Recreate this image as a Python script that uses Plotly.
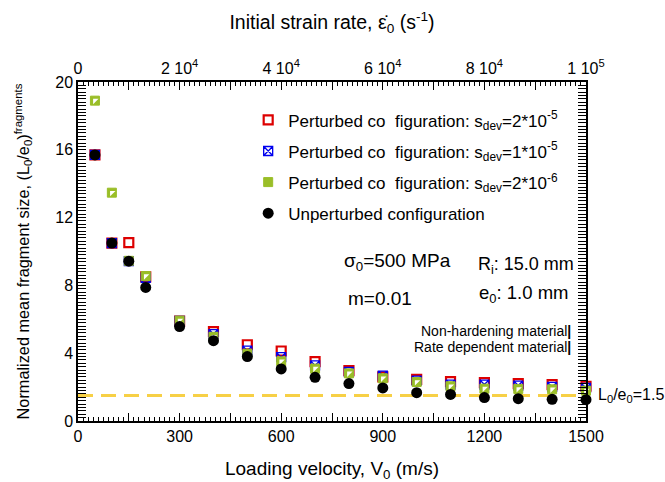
import plotly.graph_objects as go

# ---------------- data ----------------
velocity = [50, 100, 150, 200, 300, 400, 500, 600, 700, 800, 900, 1000, 1100, 1200, 1300, 1400, 1500]
pert_2e5 = [15.7, 10.5, 10.52, 8.5, 5.9, 5.27, 4.50, 4.13, 3.50, 2.97, 2.60, 2.46, 2.32, 2.26, 2.20, 2.15, 2.05]
pert_1e5 = [15.7, 10.5, 9.43, 8.45, 5.9, 5.13, 4.15, 3.77, 3.28, 2.89, 2.68, 2.38, 2.15, 2.15, 2.09, 2.01, 1.95]
pert_2e6 = [18.9, 13.47, 9.45, 8.55, 5.92, 4.97, 3.97, 3.52, 3.09, 2.81, 2.52, 2.30, 2.05, 1.91, 1.89, 1.87, 1.79]
unperturbed = [15.7, 10.5, 9.43, 7.88, 5.57, 4.74, 3.80, 3.07, 2.58, 2.21, 1.95, 1.67, 1.57, 1.38, 1.32, 1.28, 1.26]

ref_x = [0, 1500]
ref_y = [1.5, 1.5]

x_tickvals = list(range(0, 1501, 150))
x_ticktext = ["0", "", "300", "", "600", "", "900", "", "1200", "", "1500"]
y_tickvals = list(range(0, 21, 2))
y_ticktext = ["0", "", "4", "", "8", "", "12", "", "16", "", "20"]
top_tickvals = list(range(0, 100001, 10000))
top_ticktext = ["0", "", "2 10<sup>4</sup>", "", "4 10<sup>4</sup>", "", "6 10<sup>4</sup>", "",
                "8 10<sup>4</sup>", "", "1 10<sup>5</sup>"]

FONT = "Arial, Liberation Sans, sans-serif"
RED = "#DD0000"
BLUE = "#0000EE"
GREEN = "#9ABE28"
GOLD = "#F7D046"
NB = "\u00a0"

fig = go.Figure()

fig.add_trace(go.Scatter(x=ref_x, y=ref_y, mode="lines", showlegend=False,
                         line=dict(color=GOLD, width=3, dash="15px,8px"), hoverinfo="skip"))

fig.add_trace(go.Scatter(
    x=velocity, y=pert_2e5, mode="markers", cliponaxis=False, legendgroup="a",
    name=f"Perturbed co{NB}{NB}figuration: s<sub>dev</sub>=2*10<sup>-5</sup>",
    marker=dict(symbol="square-open", size=9, color=RED, line=dict(color=RED, width=2.2))))
fig.add_trace(go.Scatter(
    x=velocity, y=pert_1e5, mode="markers", cliponaxis=False, legendgroup="b",
    name=f"Perturbed co{NB}{NB}figuration: s<sub>dev</sub>=1*10<sup>-5</sup>",
    marker=dict(symbol="square-x-open", size=9, color=BLUE, line=dict(color=BLUE, width=1.3))))
fig.add_trace(go.Scatter(
    x=velocity, y=pert_2e6, mode="markers", cliponaxis=False, legendgroup="c",
    name=f"Perturbed co{NB}{NB}figuration: s<sub>dev</sub>=2*10<sup>-6</sup>",
    marker=dict(symbol="square", size=9, color=GREEN, line=dict(color=GREEN, width=1))))
fig.add_trace(go.Scatter(
    x=velocity, y=pert_2e6, mode="markers", cliponaxis=False, showlegend=False, hoverinfo="skip",
    legendgroup="c",
    marker=dict(symbol="triangle-nw", size=6, color="white", line=dict(width=0))))
fig.add_trace(go.Scatter(
    x=velocity, y=unperturbed, mode="markers", cliponaxis=False, legendgroup="d",
    name="Unperturbed configuration",
    marker=dict(symbol="circle", size=11, color="black", line=dict(width=0))))

# dummy trace for the top axis
fig.add_trace(go.Scatter(x=[0, 100000], y=[None, None], xaxis="x2", mode="markers",
                         showlegend=False, hoverinfo="skip"))

axis_common = dict(showline=True, linecolor="black", linewidth=1.5, ticks="inside",
                   tickcolor="black", ticklen=8, tickwidth=1, showgrid=False, zeroline=False,
                   automargin=False,
                   tickfont=dict(family=FONT, size=16, color="black"))

fig.update_layout(
    width=665, height=482,
    margin=dict(l=78, r=79, t=82, b=61),
    paper_bgcolor="white", plot_bgcolor="white",
    font=dict(family=FONT, color="black"),
    xaxis=dict(range=[0, 1500], tickmode="array", tickvals=x_tickvals, ticktext=x_ticktext,
               minor=dict(dtick=15, ticks="inside", ticklen=4, tickcolor="black", tickwidth=1),
               title=dict(text="Loading velocity, V<sub>0</sub> (m/s)",
                          font=dict(family=FONT, size=19), standoff=19),
               **axis_common),
    xaxis2=dict(range=[0, 100000], overlaying="x", side="top", tickmode="array",
                tickvals=top_tickvals, ticktext=top_ticktext,
                minor=dict(dtick=1000, ticks="inside", ticklen=4, tickcolor="black", tickwidth=1),
                title=dict(text="Initial strain rate, \u03b5\u0307<sub>0</sub> (s<sup>-1</sup>)",
                           font=dict(family=FONT, size=19.5), standoff=22),
                **axis_common),
    yaxis=dict(range=[0, 20], tickmode="array", tickvals=y_tickvals, ticktext=y_ticktext,
               mirror="allticks",
               minor=dict(dtick=0.2, ticks="inside", ticklen=4, tickcolor="black", tickwidth=1),
               title=dict(text="Normalized mean fragment size, (L<sub>0</sub>/e<sub>0</sub>)<sup>fragments</sup>",
                          font=dict(family=FONT, size=16.3), standoff=22),
               **axis_common),
    legend=dict(x=0.335, y=0.94, xanchor="left", yanchor="top", bgcolor="rgba(0,0,0,0)",
                font=dict(family=FONT, size=17), tracegroupgap=6, traceorder="grouped"),
)

fig.add_annotation(text="\u03c3<sub>0</sub>=500 MPa", xref="paper", yref="paper",
                   x=0.52, y=0.47, xanchor="left", yanchor="middle", showarrow=False,
                   font=dict(family=FONT, size=19, color="black"))
fig.add_annotation(text="m=0.01", xref="paper", yref="paper",
                   x=0.528, y=0.36, xanchor="left", yanchor="middle", showarrow=False,
                   font=dict(family=FONT, size=19, color="black"))
fig.add_annotation(text="R<sub>i</sub>: 15.0 mm", xref="paper", yref="paper",
                   x=0.783, y=0.46, xanchor="left", yanchor="middle", showarrow=False,
                   font=dict(family=FONT, size=18, color="black"))
fig.add_annotation(text="e<sub>0</sub>: 1.0 mm", xref="paper", yref="paper",
                   x=0.785, y=0.375, xanchor="left", yanchor="middle", showarrow=False,
                   font=dict(family=FONT, size=18.5, color="black"))
fig.add_annotation(text="Non-hardening material<b>|</b>", xref="paper", yref="paper",
                   x=0.975, y=0.265, xanchor="right", yanchor="middle", showarrow=False,
                   font=dict(family=FONT, size=14, color="black"))
fig.add_annotation(text="Rate dependent material<b>|</b>", xref="paper", yref="paper",
                   x=0.975, y=0.219, xanchor="right", yanchor="middle", showarrow=False,
                   font=dict(family=FONT, size=14, color="black"))
fig.add_annotation(text="L<sub>0</sub>/e<sub>0</sub>=1.5", xref="paper", yref="y",
                   x=1.02, y=1.5, xanchor="left", yanchor="middle", showarrow=False,
                   font=dict(family=FONT, size=16, color="black"))

fig.write_html("out.html")
